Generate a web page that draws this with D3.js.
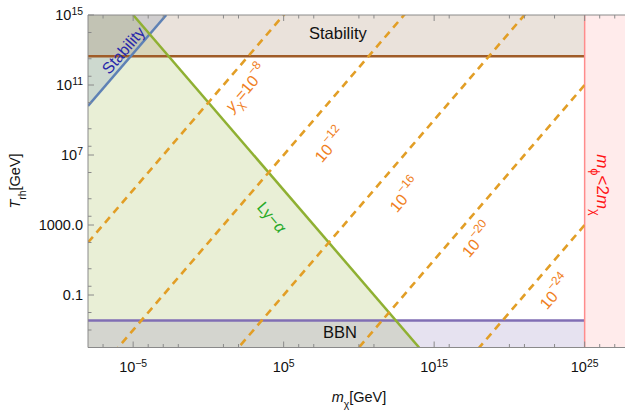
<!DOCTYPE html>
<html><head><meta charset="utf-8">
<script src="https://cdn.jsdelivr.net/npm/d3@7"></script>
<style>body{margin:0;background:#fff} text{font-family:"Liberation Sans",Arial,sans-serif}</style>
</head><body><svg id="c" width="625" height="411"></svg>
<script>
// ---- data (log10 values) ----
const xDomain = [-8, 28];          // log10 m_chi [GeV]
const yDomain = [-4, 15];          // log10 T_rh [GeV]
const massCut = 25;                // m_phi < 2 m_chi boundary
const stabilityT = 12.65;          // horizontal stability bound
const bbnT = -2.45;                // BBN bound
const lyaIntercept = 10;           // log T + log m  (Ly-alpha line)
const stabIntercept = 17.8;        // log T - log m  (diagonal stability line)
const yukawaExp = [-8, -12, -16, -20, -24];
const yukawaIntercept = [10, 2, -6, -14, -22]; // log T - log m
const xMajor = [-5, 5, 15, 25];
const xMinor = [-7, -4, -3, -2, 1, 2, 6, 7, 10, 11, 16, 20, 21, 23, 26, 27];
const yMajor = [15, 11, 7, 3, -1];
const yMajorLabels = [["10","15"], ["10","11"], ["10","7"], ["1000.0",null], ["0.1",null]];
const yMinor = [14, 12.5, 11.5, 10, 8.5, 7.5, 6, 4.5, 3.5, 2, 0.5, -0.5, -2, -3];

// ---- layout ----
const W = 625, H = 411;
const padL = 88, padT = 15, padB = 347.5;
const x = d3.scaleLinear().domain(xDomain).range([padL, padL + 36 * 15.05]);
const y = d3.scaleLinear().domain(yDomain).range([padB, padT]);
const svg = d3.select("#c");
const ANG = Math.atan((y(0) - y(1)) / (x(1) - x(0))) * 180 / Math.PI;

const defs = svg.append("defs");
defs.append("clipPath").attr("id", "plot").append("rect")
  .attr("x", x(xDomain[0])).attr("y", y(yDomain[1]))
  .attr("width", W - x(xDomain[0])).attr("height", y(yDomain[0]) - y(yDomain[1]));
defs.append("clipPath").attr("id", "inner").append("rect")
  .attr("x", x(xDomain[0])).attr("y", y(yDomain[1]))
  .attr("width", x(massCut) - x(xDomain[0])).attr("height", y(yDomain[0]) - y(yDomain[1]));

const g = svg.append("g").attr("clip-path", "url(#plot)");
const gi = svg.append("g").attr("clip-path", "url(#inner)");
const line = d3.line().x(d => x(d[0])).y(d => y(d[1]));

const cGreen = "rgb(143,176,50)", cBlue = "rgb(94,129,181)", cBrown = "rgb(160,92,40)",
      cPurple = "rgb(128,110,180)", cPink = "rgb(255,140,140)", cOrange = "rgb(226,158,38)";

// fills
const x0 = xDomain[0], x1 = xDomain[1], y0 = yDomain[0], y1 = yDomain[1];
g.append("path").attr("d", line([[x0, y1], [lyaIntercept - y1, y1], [lyaIntercept - y0, y0], [x0, y0]]) + "Z")
  .attr("fill", cGreen).attr("fill-opacity", 0.2);
g.append("path").attr("d", line([[x0, x0 + stabIntercept], [y1 - stabIntercept, y1], [x0, y1]]) + "Z")
  .attr("fill", cBlue).attr("fill-opacity", 0.2);
g.append("path").attr("d", line([[x0, stabilityT], [massCut, stabilityT], [massCut, y1], [x0, y1]]) + "Z")
  .attr("fill", "rgb(150,110,75)").attr("fill-opacity", 0.2);
g.append("path").attr("d", line([[x0, y0], [massCut, y0], [massCut, bbnT], [x0, bbnT]]) + "Z")
  .attr("fill", cPurple).attr("fill-opacity", 0.2);
g.append("path").attr("d", line([[massCut, y0], [x1, y0], [x1, y1], [massCut, y1]]) + "Z")
  .attr("fill", "rgb(255,120,120)").attr("fill-opacity", 0.15);

// boundary lines
g.append("path").attr("d", line([[x0, stabilityT], [massCut, stabilityT]])).attr("stroke", cBrown).attr("stroke-width", 2.5).attr("fill", "none");
g.append("path").attr("d", line([[x0, bbnT], [massCut, bbnT]])).attr("stroke", cPurple).attr("stroke-width", 2.5).attr("fill", "none");
g.append("path").attr("d", line([[x0, x0 + stabIntercept], [y1 - stabIntercept, y1]])).attr("stroke", cBlue).attr("stroke-width", 2.5).attr("fill", "none");
g.append("path").attr("d", line([[lyaIntercept - y1, y1], [lyaIntercept - y0, y0]])).attr("stroke", cGreen).attr("stroke-width", 2.5).attr("fill", "none");
g.append("path").attr("d", line([[massCut, y0], [massCut, y1]])).attr("stroke", cPink).attr("stroke-width", 1.5).attr("fill", "none");

// yukawa contours
yukawaIntercept.forEach(c => {
  gi.append("path").attr("d", line([[x0, x0 + c], [massCut, massCut + c]]))
    .attr("stroke", cOrange).attr("stroke-width", 2.6).attr("fill", "none")
    .attr("stroke-dasharray", "7.5,5.5");
});

// rich text helper
function rich(sel, parts, size, k) {
  k = k || 0.72;
  parts.forEach(p => {
    const t = sel.append("tspan").text(p.t);
    if (p.it) t.attr("font-style", "italic");
    if (p.sup) t.attr("baseline-shift", "super").attr("font-size", size * k);
    if (p.sub) t.attr("baseline-shift", "sub").attr("font-size", size * k);
  });
}
function label(lx, ly, rot, parts, size, color) {
  const t = svg.append("text")
    .attr("transform", `translate(${x(lx)},${y(ly)}) rotate(${rot})`)
    .attr("text-anchor", "middle").attr("dominant-baseline", "central")
    .attr("font-size", size).attr("fill", color);
  rich(t, parts, size, 0.75);
  return t;
}
const cLab = "rgb(240,128,30)";
label(2.5, 10.83, -ANG, [{t:"y", it:1}, {t:"χ", sub:1}, {t:"=10"}, {t:"−8", sup:1}], 16, cLab);
label(8.08, 7.57, -ANG, [{t:"10"}, {t:"−12", sup:1}], 16, cLab);
label(13.06, 4.71, -ANG, [{t:"10"}, {t:"−16", sup:1}], 16, cLab);
label(17.85, 2.14, -ANG, [{t:"10"}, {t:"−20", sup:1}], 16, cLab);
label(23.03, -0.83, -ANG, [{t:"10"}, {t:"−24", sup:1}], 16, cLab);
label(4.23, 3.46, ANG, [{t:"Ly−"}, {t:"α", it:1}], 16, "rgb(40,170,40)");
label(-5.67, 13.0, -ANG, [{t:"Stability"}], 16, "rgb(40,40,170)");
label(8.6, 13.97, 0, [{t:"Stability"}], 16.5, "#111");
label(8.74, -3.11, 0, [{t:"BBN"}], 16.5, "#111");
label(26.2, 5.29, 90, [{t:"m", it:1}, {t:"ϕ", sub:1}, {t:"<2"}, {t:"m", it:1}, {t:"χ", sub:1}], 17, "rgb(255,20,20)");

// frame
const fc = "#8a8a8a";
const fr = svg.append("g").attr("stroke", fc).attr("fill", "none");
fr.append("line").attr("x1", x(x0)).attr("x2", W).attr("y1", y(y0)).attr("y2", y(y0));
fr.append("line").attr("x1", x(x0)).attr("x2", W).attr("y1", y(y1)).attr("y2", y(y1));
fr.append("line").attr("x1", x(x0)).attr("x2", x(x0)).attr("y1", y(y0)).attr("y2", y(y1));

// ticks
const tk = svg.append("g").attr("stroke", fc).attr("stroke-width", 1);
xMajor.forEach(v => {
  tk.append("line").attr("x1", x(v)).attr("x2", x(v)).attr("y1", y(y0)).attr("y2", y(y0) - 6);
  tk.append("line").attr("x1", x(v)).attr("x2", x(v)).attr("y1", y(y1)).attr("y2", y(y1) + 6);
});
xMinor.forEach(v => {
  tk.append("line").attr("x1", x(v)).attr("x2", x(v)).attr("y1", y(y0)).attr("y2", y(y0) - 3.5);
  tk.append("line").attr("x1", x(v)).attr("x2", x(v)).attr("y1", y(y1)).attr("y2", y(y1) + 3.5);
});
yMajor.forEach(v => {
  tk.append("line").attr("x1", x(x0)).attr("x2", x(x0) + 6).attr("y1", y(v)).attr("y2", y(v));
});
yMinor.forEach(v => {
  tk.append("line").attr("x1", x(x0)).attr("x2", x(x0) + 3.5).attr("y1", y(v)).attr("y2", y(v));
});

// tick labels
xMajor.forEach(v => {
  const t = svg.append("text").attr("x", x(v)).attr("y", 372).attr("text-anchor", "middle")
    .attr("font-size", 14.5).attr("fill", "#111");
  rich(t, [{t:"10"}, {t: (v < 0 ? "−" : "") + Math.abs(v), sup:1}], 14.5);
});
yMajor.forEach((v, i) => {
  const [b, s] = yMajorLabels[i];
  const t = svg.append("text").attr("x", 83).attr("y", y(v) + 5).attr("text-anchor", "end")
    .attr("font-size", 14.5).attr("fill", "#111");
  const parts = [{t:b}];
  if (s) parts.push({t:s, sup:1});
  rich(t, parts, 14.5);
});

// axis titles
const xt = svg.append("text").attr("x", 359).attr("y", 402).attr("text-anchor", "middle")
  .attr("font-size", 14.5).attr("fill", "#111");
rich(xt, [{t:"m", it:1}, {t:"χ", sub:1}, {t:"[GeV]"}], 14.5);
const yt = svg.append("text").attr("transform", "translate(20,181) rotate(-90)").attr("text-anchor", "middle")
  .attr("font-size", 14.5).attr("fill", "#111");
rich(yt, [{t:"T", it:1}, {t:"rh", sub:1}, {t:"[GeV]"}], 14.5);
</script></body></html>
